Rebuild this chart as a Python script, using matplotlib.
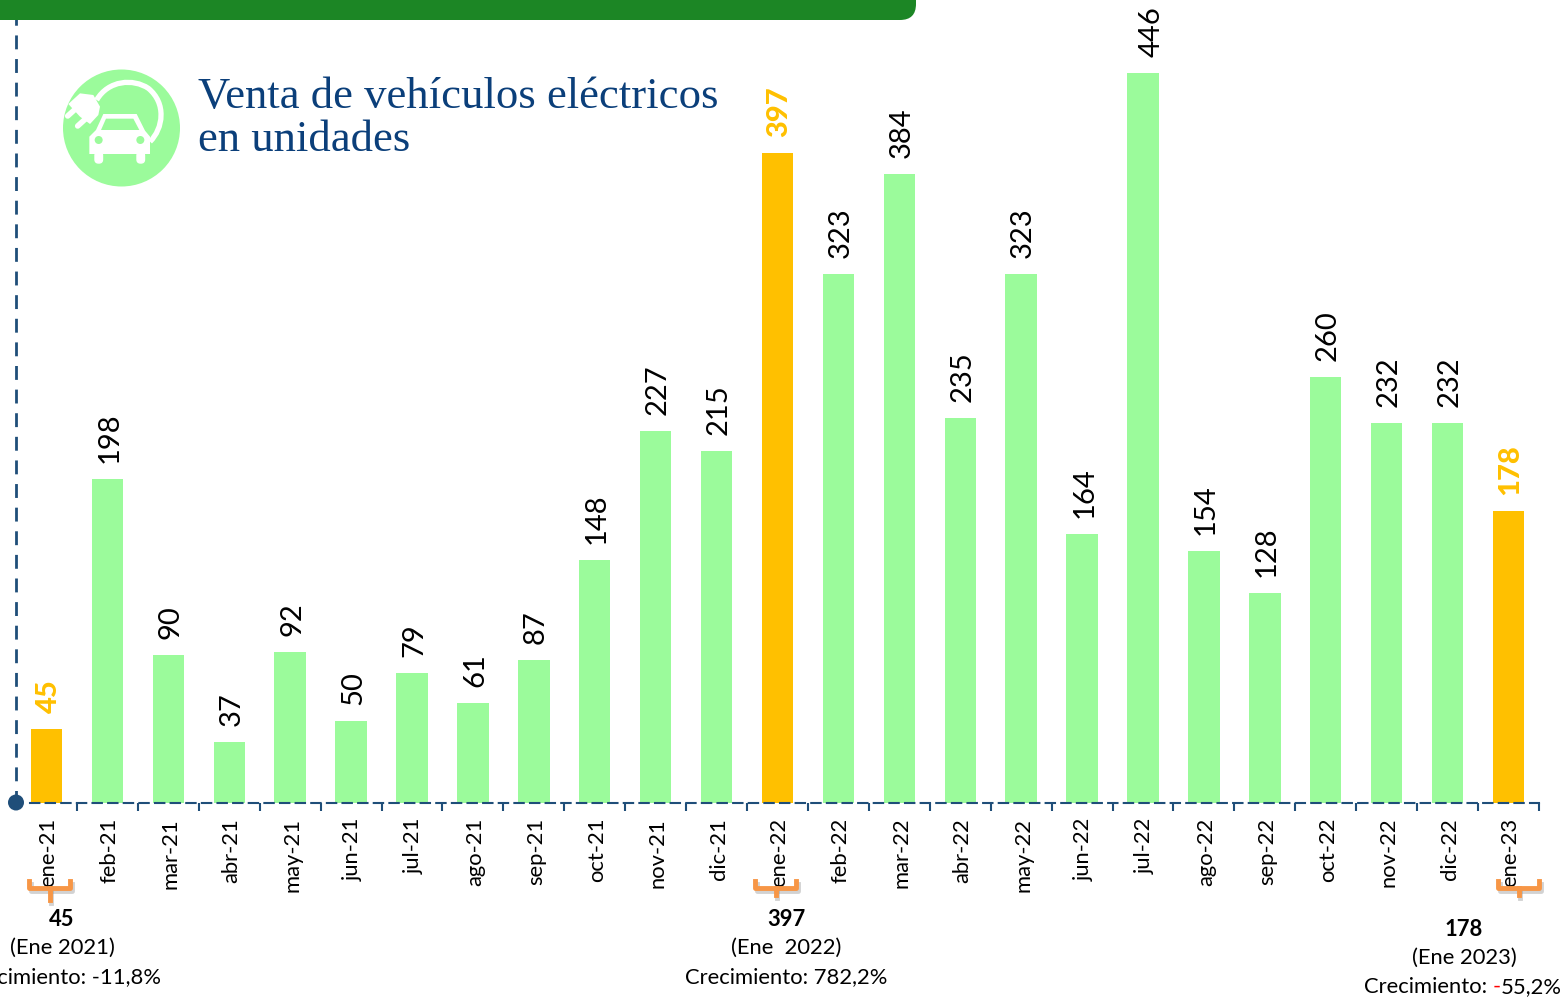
import numpy as np
import matplotlib
matplotlib.use("Agg")
import matplotlib.pyplot as plt
from matplotlib.patches import Circle, Polygon, PathPatch, FancyBboxPatch
from matplotlib.path import Path
from matplotlib.transforms import ScaledTranslation

months = ["ene-21", "feb-21", "mar-21", "abr-21", "may-21", "jun-21", "jul-21", "ago-21", "sep-21",
          "oct-21", "nov-21", "dic-21", "ene-22", "feb-22", "mar-22", "abr-22", "may-22", "jun-22",
          "jul-22", "ago-22", "sep-22", "oct-22", "nov-22", "dic-22", "ene-23"]
sales = [45, 198, 90, 37, 92, 50, 79, 61, 87, 148, 227, 215, 397, 323, 384, 235, 323, 164,
         446, 154, 128, 260, 232, 232, 178]
highlight = ["ene-21", "ene-22", "ene-23"]

GREEN = "#9BFB9B"
ORANGE = "#FFC000"
AXIS = "#1F4E79"
W, H = 1563, 998

plt.rcParams["font.family"] = ["Lato", "DejaVu Sans"]

fig = plt.figure(figsize=(W / 100, H / 100), dpi=100)

# main chart, bars sit on y=802.5 px
left, right, base = 16.0, 1539.0, 802.5
ax = fig.add_axes([left / W, 1 - base / H, (right - left) / W, base / H])
x = np.arange(len(sales))
colors = [ORANGE if m in highlight else GREEN for m in months]
ax.bar(x, sales, width=0.515, color=colors, zorder=2)
ax.set_xlim(-0.5, len(sales) - 0.5)
ax.set_ylim(0, base / 1.636)
ax.patch.set_alpha(0)

for i, v in enumerate(sales):
    hl = months[i] in highlight
    # the tallest label sits a bit to the right of its bar in the original
    dx = 6 if v == max(sales) else 1.5
    ax.annotate(str(v), (i, v), xytext=(dx, 11.5), textcoords="offset points", rotation=90,
                ha="center", va="bottom", fontsize=21, annotation_clip=False,
                color=ORANGE if hl else "black", fontweight="black" if hl else "normal")

ax.set_xticks(x)
ax.set_xticklabels(months, rotation=90, fontsize=15.8)
ax.tick_params(axis="x", which="major", length=0, pad=11)
for lab in ax.get_xticklabels():
    lab.set_transform(lab.get_transform() + ScaledTranslation(1.5 / 72, 0, fig.dpi_scale_trans))
ax.set_xticks(x + 0.5, minor=True)
ax.tick_params(axis="x", which="minor", length=5.5, width=1.5, color=AXIS)
ax.set_yticks([])
for s in ["top", "right"]:
    ax.spines[s].set_visible(False)
ax.spines["bottom"].set_color(AXIS)
ax.spines["bottom"].set_linewidth(1.5)
ax.spines["bottom"].set_linestyle((0, (4.5, 3)))
ax.spines["bottom"].set_bounds(-0.27, len(sales) - 0.5)
ax.spines["left"].set_color(AXIS)
ax.spines["left"].set_linewidth(2)
ax.spines["left"].set_linestyle((0, (4, 4.5)))

# overlay in pixel coordinates for banner, icon and notes
ov = fig.add_axes([0, 0, 1, 1])
ov.set_xlim(0, W)
ov.set_ylim(H, 0)
ov.axis("off")
ov.patch.set_alpha(0)

ov.add_patch(FancyBboxPatch((-40, -40), 956, 60, boxstyle="round,pad=0,rounding_size=16",
                            fc="#1C8625", ec="none"))
ov.add_patch(Circle((16, 802.5), 8, fc=AXIS, ec="none", zorder=5))

# icon
ov.add_patch(Circle((121.5, 128), 58.5, fc=GREEN, ec="none"))
def z(pts):
    return [(a / 3, b / 3) for a, b in pts]
cable = Path(z([(290, 300), (325, 240), (400, 235), (445, 265), (500, 310), (490, 385), (450, 425)]),
             [Path.MOVETO, Path.CURVE4, Path.CURVE4, Path.CURVE4, Path.CURVE4, Path.CURVE4, Path.CURVE4])
ov.add_patch(PathPatch(cable, fc="none", ec="white", lw=3.8))
ov.add_patch(Polygon(z([(205, 312), (240, 280), (280, 285), (300, 320), (295, 345), (270, 372), (240, 350)]), fc="white", ec="none"))
ov.plot([203 / 3, 225 / 3], [348 / 3, 328 / 3], color="white", lw=4, solid_capstyle="round")
ov.plot([233 / 3, 255 / 3], [378 / 3, 358 / 3], color="white", lw=4, solid_capstyle="round")
ov.add_patch(Polygon(z([(268, 462), (268, 410), (288, 390), (310, 342), (410, 342), (435, 392), (450, 410), (450, 462)]), fc="white", ec="none"))
ov.add_patch(Polygon(z([(303, 390), (318, 356), (400, 356), (418, 390)]), fc=GREEN, ec="none"))
ov.add_patch(Circle((296 / 3, 420 / 3), 4, fc=GREEN, ec="none"))
ov.add_patch(Circle((421 / 3, 420 / 3), 4, fc=GREEN, ec="none"))
for wx in (282, 408):
    ov.add_patch(FancyBboxPatch((wx / 3 + 1, 152), 7.5, 11, boxstyle="round,pad=0,rounding_size=3.5", fc="white", ec="white", lw=1))

TITLE = "#0B3F7A"
ov.text(198, 97, "Venta de vehículos eléctricos", family="Liberation Serif", fontsize=32.2, color=TITLE, va="center")
ov.text(198, 140, "en unidades", family="Liberation Serif", fontsize=32.2, color=TITLE, va="center")

# orange brackets under the january labels
ORG = "#F79646"
for x0, x1, top, stem in [(29, 70, 881, 900), (755, 796, 881, 895), (1498, 1539, 881, 895)]:
    mid = (x0 + x1) / 2
    for dx, dy, c, a in [(1.5, 2.5, "#808080", 0.35), (0, 0, ORG, 1)]:
        ov.plot([x0 + dx, x0 + dx, x1 + dx, x1 + dx], [top + dy, 888 + dy, 888 + dy, top + dy], color=c, alpha=a, lw=3.5, solid_joinstyle="round", zorder=4)
        ov.plot([mid + dx, mid + dx], [888 + dy, stem + dy], color=c, alpha=a, lw=3.5, zorder=4)

NOTE = 15.8
for cx, y0, val, per, growth in [(62, 919, "45", "(Ene 2021)", "Crecimiento: -11,8%"),
                                 (786, 919, "397", "(Ene  2022)", "Crecimiento: 782,2%")]:
    ov.text(cx, y0, val, ha="center", va="center", fontsize=NOTE, fontweight="bold")
    ov.text(cx, y0 + 29, per, ha="center", va="center", fontsize=NOTE)
    ov.text(cx, y0 + 58, growth, ha="center", va="center", fontsize=NOTE)

ov.text(1464, 929, "178", ha="center", va="center", fontsize=NOTE, fontweight="bold")
ov.text(1464, 958, "(Ene 2023)", ha="center", va="center", fontsize=NOTE)
# red minus sign, pieces placed one after the other
rend = fig.canvas.get_renderer()
t3 = ov.text(1562, 987, "55,2%", ha="right", va="center", fontsize=NOTE)
x3 = t3.get_window_extent(rend).x0
t2 = ov.text(x3, 987, "-", ha="right", va="center", fontsize=NOTE, color="red")
x2 = t2.get_window_extent(rend).x0
ov.text(x2, 987, "Crecimiento: ", ha="right", va="center", fontsize=NOTE)

fig.savefig("out.png", dpi=100)
